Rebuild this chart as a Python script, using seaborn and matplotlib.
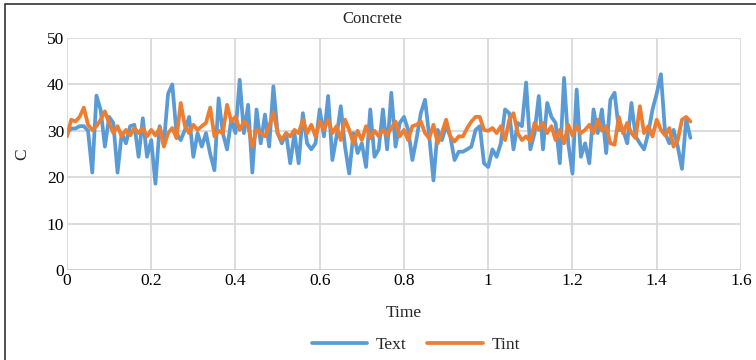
import matplotlib

matplotlib.use("Agg")

import matplotlib.pyplot as plt
import numpy as np
import pandas as pd
import seaborn as sns
from matplotlib.patches import Rectangle
from matplotlib.ticker import FormatStrFormatter, MultipleLocator

# time axis, step 0.01 from 0 to 1.48
time = np.round(np.arange(0, 149) * 0.01, 2)

text_vals = [
    29.5, 30.5, 30.5, 31, 31, 30, 21, 37.6, 34.5, 26.6,
    33, 31.7, 21, 29.5, 27.3, 31, 31.3, 24.4, 32.7, 24.4,
    28, 18.6, 31, 27.3, 38, 40, 29.5, 28, 30.2, 33,
    24.4, 29.5, 26.6, 29.5, 25, 21.5, 37, 29.5, 26, 32.4,
    29.5, 41, 29.5, 35.6, 21, 34.6, 27.3, 33.5, 26.6, 39.6,
    29.5, 27.3, 29.5, 23, 29.5, 23, 33.8, 27.3, 26, 27.3,
    34.6, 28.8, 37.5, 23.7, 28.8, 35.3, 26.6, 20.8, 29.5, 25.2,
    27.3, 22.2, 34.6, 24.4, 26, 34.6, 26, 38.2, 26.6, 31.7,
    33, 30.2, 23.7, 28.4, 33.8, 36.7, 28.8, 19.3, 30.2, 28,
    31, 28.8, 23.7, 25.5, 25.5, 26, 26.6, 30.2, 31, 23,
    22.2, 26, 24.4, 27.3, 34.6, 33.8, 26, 31.7, 31, 40.4,
    26, 29.5, 37.5, 26, 36, 33, 31.7, 23, 41.4, 27.3,
    20.8, 38.9, 24.4, 27.3, 23, 34.6, 29.5, 34.6, 25.2, 36.7,
    38.2, 30.2, 30.2, 27.3, 36, 28.8, 27.3, 26, 29.5, 34.6,
    38, 42.2, 29.5, 27.3, 30.2, 26.6, 21.8, 32.4, 28.5,
]

tint_vals = [
    28.8, 32.4, 32, 33, 35, 31.3, 30.2, 31, 32.4, 34.2,
    31.7, 29.5, 31, 28.8, 30.2, 29, 30.6, 29.5, 30.6, 28.8,
    30.2, 29, 30.6, 26.6, 29.5, 30.6, 28.4, 36, 31, 29.5,
    31.3, 30.2, 31, 31.7, 35, 28.8, 30, 29.5, 35.6, 32,
    33, 30.2, 32, 31, 26.6, 30.2, 29.5, 28.8, 31, 34,
    29.5, 28, 29.5, 28.8, 30.2, 29.5, 32.4, 29.5, 31.3, 28.8,
    32, 30.2, 32.4, 29.5, 31, 28, 32.4, 30.2, 27.3, 30,
    28, 31, 28.4, 30, 28.8, 30.2, 29, 30.6, 32, 28.8,
    30.2, 28, 31, 31.3, 32, 29.5, 28.4, 31.3, 27.3, 29.5,
    32.4, 28.8, 27.7, 28.8, 28.8, 30.6, 32, 33, 33, 30.2,
    30, 30.6, 29.5, 31, 28, 32.4, 33.8, 29.5, 28, 28.8,
    27.7, 31.7, 30.2, 31.7, 29.5, 31, 28, 30.2, 27.3, 31.3,
    29, 31, 29.5, 30.2, 31.3, 29.5, 32.4, 30, 31, 27.3,
    27, 33, 29.5, 31.7, 29.5, 28.4, 35.3, 29.5, 31, 28.8,
    32.4, 30.2, 29, 30.6, 26.6, 28, 32.4, 33, 32,
]

series_names = ["Text", "Tint"]
x_ticks = [0, 0.2, 0.4, 0.6, 0.8, 1, 1.2, 1.4, 1.6]

df = pd.DataFrame({
    "Time": np.concatenate([time, time]),
    "C": np.concatenate([text_vals, tint_vals]),
    "series": ["Text"] * len(time) + ["Tint"] * len(time),
})

sns.set_style("whitegrid")
plt.rcParams["font.family"] = ["Liberation Serif", "DejaVu Serif"]

fig = plt.figure(figsize=(7.56, 3.6), dpi=100)
ax = fig.add_axes([0.0886, 0.25, 0.8915, 0.6444])

sns.lineplot(
    data=df, x="Time", y="C", hue="series", hue_order=series_names,
    palette=["#5B9BD5", "#ED7D31"], linewidth=2.7, ax=ax,
)

ax.set_xlim(0, 1.6)
ax.set_ylim(0, 50)
ax.set_xticks(x_ticks)
ax.xaxis.set_major_formatter(FormatStrFormatter("%g"))
ax.yaxis.set_major_locator(MultipleLocator(10))
ax.grid(True, color="#d9d9d9", linewidth=1.3)
for s in ax.spines.values():
    s.set_visible(False)
ax.axhline(0, color="#d0d0d0", lw=1.3, zorder=1)
ax.tick_params(axis="both", labelsize=12.5, colors="black", pad=2, length=0)

ax.set_xlabel("Time", fontsize=12.5, labelpad=12)
ax.set_ylabel("C", fontsize=12.5, labelpad=12)
fig.text(0.493, 0.948, "Concrete", ha="center", va="center", fontsize=12)

ax.legend(
    loc="center", bbox_to_anchor=(0.55, 0.042), bbox_transform=fig.transFigure,
    ncol=2, frameon=False, fontsize=12.5, handlelength=3.2, columnspacing=1.2,
    handletextpad=0.5,
)

fig.patches.append(Rectangle((5 / 756, -0.02), 1.1, 1 - 4 / 360 + 0.02,
                             transform=fig.transFigure, fill=False,
                             edgecolor="#333333", lw=1.2))

fig.savefig("out.png", dpi=100)
plt.close(fig)
